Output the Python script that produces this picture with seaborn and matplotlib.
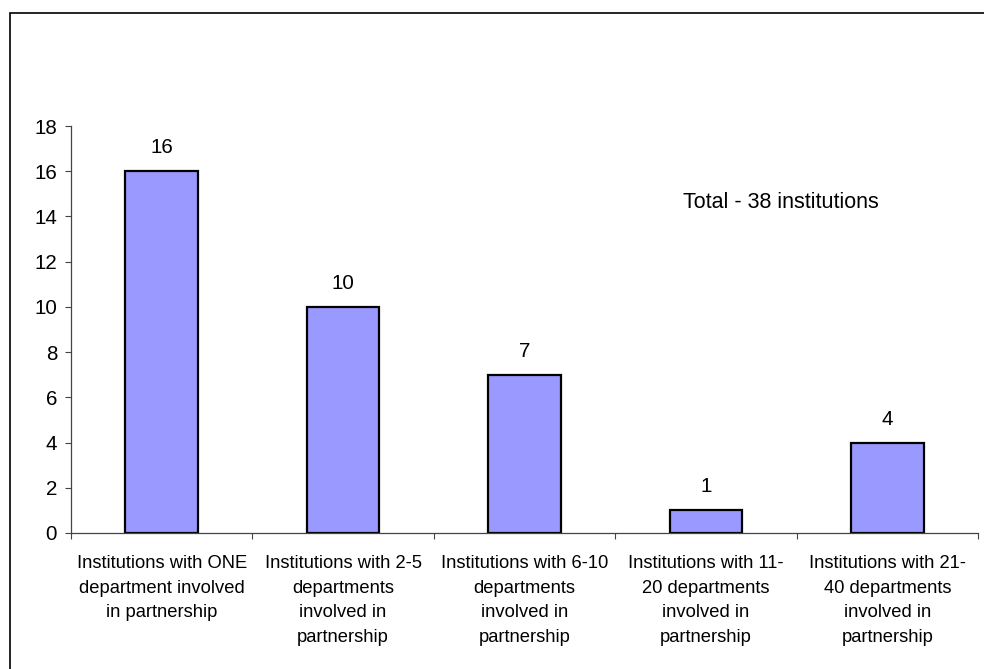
import matplotlib
matplotlib.use("Agg")
import matplotlib.pyplot as plt
import matplotlib.patches as mpatches
import seaborn as sns
import pandas as pd
import numpy as np

categories = [
    "Institutions with ONE\ndepartment involved\nin partnership",
    "Institutions with 2-5\ndepartments\ninvolved in\npartnership",
    "Institutions with 6-10\ndepartments\ninvolved in\npartnership",
    "Institutions with 11-\n20 departments\ninvolved in\npartnership",
    "Institutions with 21-\n40 departments\ninvolved in\npartnership",
]
values = [16, 10, 7, 1, 4]
y_ticks = [0, 2, 4, 6, 8, 10, 12, 14, 16, 18]
annotation = "Total - 38 institutions"

sns.set_style("white")
plt.rcParams["font.family"] = ["Liberation Sans", "DejaVu Sans"]

W, H = 984, 669
fig = plt.figure(figsize=(W / 100, H / 100), dpi=100)
ax = fig.add_axes([71 / W, 1 - 533 / H, (978 - 71) / W, (533 - 126) / H])

df = pd.DataFrame({"cat": categories, "val": values})
sns.barplot(data=df, x="cat", y="val", ax=ax, color="#9999FF",
            saturation=1, edgecolor="black", linewidth=1.6, width=0.4)

for c in ax.containers:
    ax.bar_label(c, labels=[str(v) for v in values], padding=10, fontsize=14.8,
                 color="black")

ax.set_ylim(0, 18)
ax.set_xlim(-0.5, len(categories) - 0.5)
ax.set_yticks(y_ticks)
ax.set_yticklabels([str(t) for t in y_ticks], fontsize=14.8, color="black")
ax.set_xlabel("")
ax.set_ylabel("")

ax.set_xticks(range(len(categories)))
ax.set_xticklabels(categories, fontsize=13.2, linespacing=1.58, color="black")
ax.tick_params(axis="x", which="major", length=0, pad=16)
ax.set_xticks(np.arange(-0.5, len(categories)), minor=True)
ax.tick_params(axis="x", which="minor", length=4, width=0.8, color="#444444", direction="out", bottom=True)
ax.tick_params(axis="y", length=4, width=0.8, color="#444444", direction="out", left=True, pad=6)

for s in ["top", "right"]:
    ax.spines[s].set_visible(False)
for s in ["left", "bottom"]:
    ax.spines[s].set_color("#444444")
    ax.spines[s].set_linewidth(0.9)

fig.text(781 / W, 1 - 203 / H, annotation, fontsize=15.5, ha="center", va="center",
         color="black")

border = mpatches.Rectangle((10 / W, -0.1), 1.2, (1 - 13 / H) + 0.1,
                            transform=fig.transFigure, fill=False,
                            edgecolor="black", linewidth=1.2)
fig.patches.append(border)

fig.savefig("out.png", dpi=100)
